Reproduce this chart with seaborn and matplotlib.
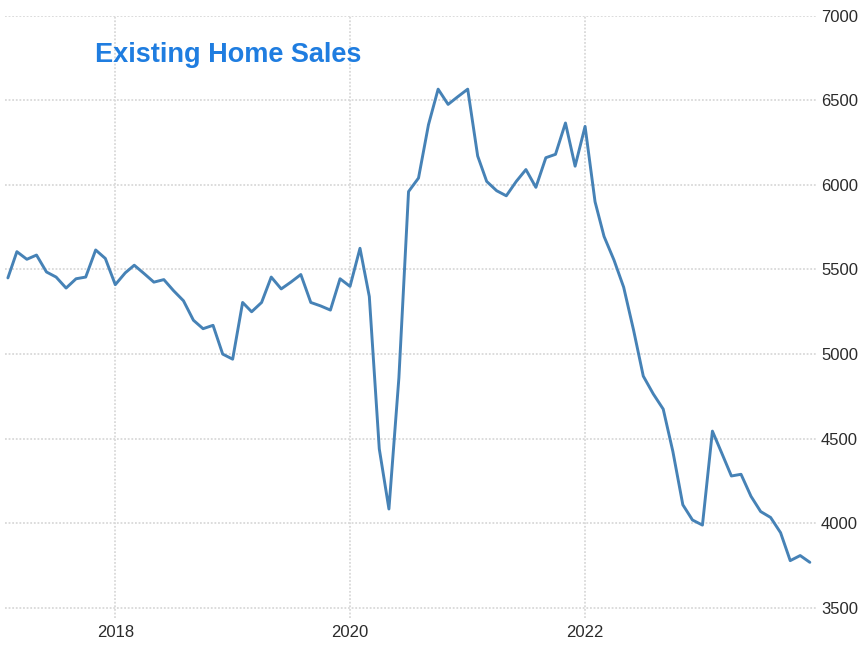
import pandas as pd
import numpy as np
import matplotlib
matplotlib.use("Agg")
import matplotlib.pyplot as plt
import matplotlib.dates as mdates
import seaborn as sns

# ---------------------------------------------------
# Daten (Tsd., saisonbereinigt)
# ---------------------------------------------------
start_month = "2017-02-01"
end_month = "2023-12-01"

sales_2017 = [5450, 5605, 5560, 5585, 5485, 5455, 5390, 5445, 5455, 5615, 5565]
sales_2018 = [5410, 5480, 5525, 5475, 5425, 5440, 5375, 5315, 5200, 5150, 5170, 5000]
sales_2019 = [4970, 5305, 5250, 5305, 5455, 5385, 5425, 5470, 5305, 5285, 5260, 5445]
sales_2020 = [5400, 5625, 5340, 4440, 4085, 4860, 5960, 6040, 6355, 6565, 6475, 6520]
sales_2021 = [6565, 6170, 6020, 5965, 5935, 6020, 6090, 5985, 6160, 6180, 6365, 6110]
sales_2022 = [6345, 5900, 5695, 5555, 5395, 5140, 4870, 4765, 4675, 4425, 4110, 4020]
sales_2023 = [3990, 4545, 4420, 4280, 4290, 4160, 4070, 4035, 3945, 3780, 3810, 3770]

y_ticks = [3500, 4000, 4500, 5000, 5500, 6000, 6500, 7000]
title_text = "Existing Home Sales"

sales = sales_2017 + sales_2018 + sales_2019 + sales_2020 + sales_2021 + sales_2022 + sales_2023
df = pd.DataFrame({
    "date": pd.date_range(start_month, end_month, freq="MS"),
    "sales": sales,
})

# ---------------------------------------------------
# Plot
# ---------------------------------------------------
sns.set_style("white")
plt.rcParams["font.family"] = ["Liberation Sans", "DejaVu Sans"]

fig = plt.figure(figsize=(8.61, 6.46), dpi=100)
ax = fig.add_axes([0.0058, 0.0433, 0.943, 0.9327])

sns.lineplot(data=df, x="date", y="sales", ax=ax, color="#4682b6", linewidth=2.1)

ax.set_xlim(pd.Timestamp("2017-01-23"), pd.Timestamp("2023-12-23"))
ax.set_ylim(3441, 7000)
ax.set_yticks(y_ticks)
ax.xaxis.set_major_locator(mdates.YearLocator(2))
ax.xaxis.set_major_formatter(mdates.DateFormatter("%Y"))

ax.yaxis.tick_right()
ax.tick_params(axis="both", length=0, labelsize=12, colors="#2b2b2b")
ax.tick_params(axis="y", pad=3)
ax.tick_params(axis="x", pad=5)
ax.set_xlabel("")
ax.set_ylabel("")

ax.grid(True, color="#d9d9d9", linestyle=(0, (1, 1)), linewidth=1.3)
ax.set_axisbelow(True)
for side in ["top", "right", "bottom", "left"]:
    ax.spines[side].set_visible(False)

fig.text(95 / 861, 1 - 55 / 646, title_text, fontsize=19.5, fontweight="bold",
         color="#1f7de0", ha="left", va="center")

plt.savefig("out.png", dpi=100)
plt.close()
